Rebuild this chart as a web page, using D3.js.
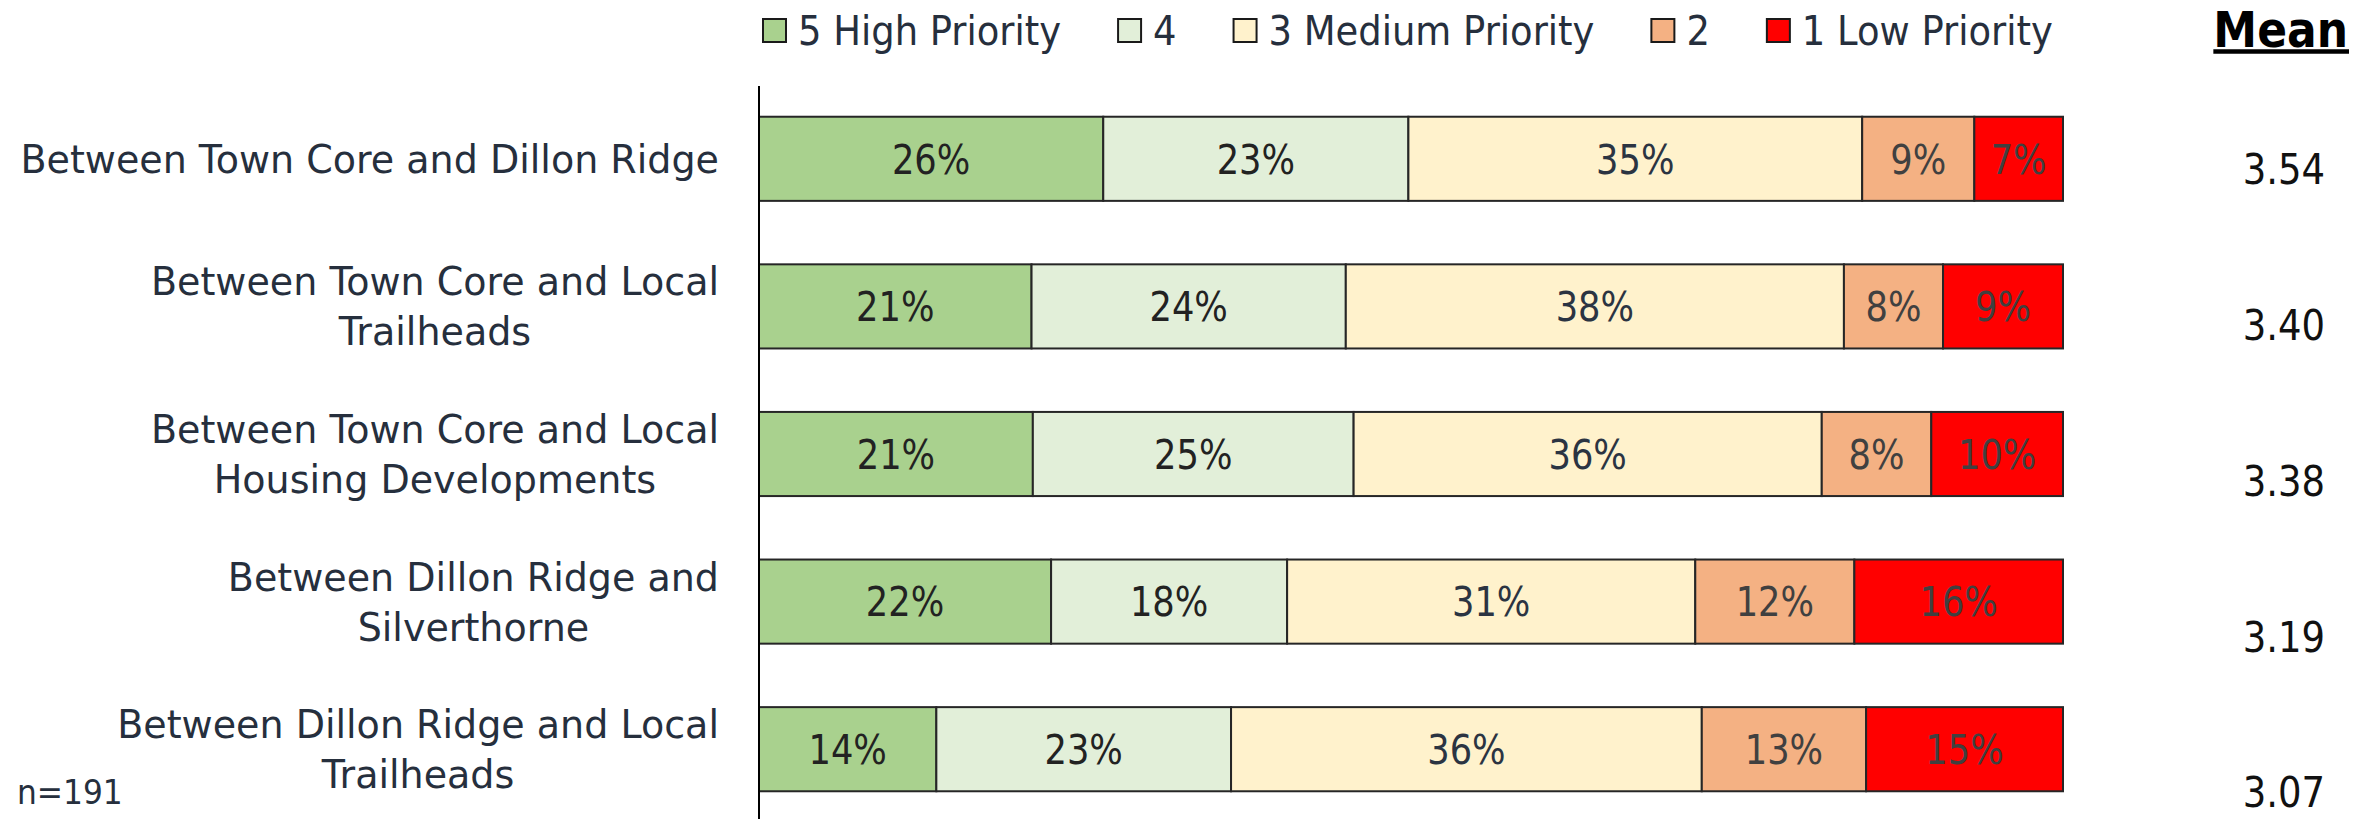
<!DOCTYPE html>
<html>
<head>
<meta charset="utf-8">
<script src="https://cdn.jsdelivr.net/npm/d3@7"></script>
<style>
  body { margin: 0; background: #fff; }
  svg { display: block; font-family: "DejaVu Sans", Verdana, sans-serif; }
</style>
</head>
<body>
<svg id="chart" width="2371" height="819"></svg>
<script>
// categories, top to bottom
var categories = [
  "Between Town Core and Dillon Ridge",
  "Between Town Core and Local Trailheads",
  "Between Town Core and Local Housing Developments",
  "Between Dillon Ridge and Silverthorne",
  "Between Dillon Ridge and Local Trailheads"
];
// how each label breaks into lines
var labelLines = [
  ["Between Town Core and Dillon Ridge"],
  ["Between Town Core and Local", "Trailheads"],
  ["Between Town Core and Local", "Housing Developments"],
  ["Between Dillon Ridge and", "Silverthorne"],
  ["Between Dillon Ridge and Local", "Trailheads"]
];

var seriesNames = ["5 High Priority", "4", "3 Medium Priority", "2", "1 Low Priority"];
var seriesColors = ["#a9d18e", "#e2efd9", "#fff2cc", "#f4b183", "#ff0000"];
var labelColors = ["#222222", "#222222", "#2b3442", "#404040", "#404040"];

// share per series (percent), one entry per category
var high5   = [26.4, 20.9, 21.0, 22.4, 13.6];
var four    = [23.4, 24.1, 24.6, 18.1, 22.6];
var medium3 = [34.8, 38.2, 35.9, 31.3, 36.1];
var two     = [8.6, 7.6, 8.4, 12.2, 12.6];
var low1    = [6.8, 9.2, 10.1, 16.0, 15.1];

var means = ["3.54", "3.40", "3.38", "3.19", "3.07"];
var sampleNote = "n=191";

var series = [high5, four, medium3, two, low1];

var rows = categories.map(function(c, i) {
  var r = { cat: c };
  seriesNames.forEach(function(s, j) { r[s] = series[j][i]; });
  return r;
});

var stack = d3.stack().keys(seriesNames)(rows);

var svg = d3.select("#chart");

var x = d3.scaleLinear().domain([0, 100]).range([759, 2063]);
var y = d3.scaleBand().domain(categories).range([85, 823]).paddingInner(0.43).paddingOuter(0.215);
var yMean = d3.scalePoint().domain(categories).range([169, 792]);

var textColor = "#262f3d";

// squeeze DejaVu to the narrower face of the original
function squeeze(sel, k) {
  sel.each(function() {
    var w = this.getComputedTextLength();
    d3.select(this).attr("textLength", w * k).attr("lengthAdjust", "spacingAndGlyphs");
  });
  return sel;
}

// bars
var layers = svg.append("g").selectAll("g")
  .data(stack)
  .enter().append("g")
  .attr("fill", function(d, i) { return seriesColors[i]; });

layers.selectAll("rect")
  .data(function(d) { return d; })
  .enter().append("rect")
  .attr("x", function(d) { return x(d[0]); })
  .attr("y", function(d) { return y(d.data.cat); })
  .attr("width", function(d) { return x(d[1]) - x(d[0]); })
  .attr("height", y.bandwidth())
  .attr("stroke", "#262626")
  .attr("stroke-width", 2);

// value labels inside bars
layers.each(function(layer, i) {
  var t = d3.select(this).selectAll("text")
    .data(layer)
    .enter().append("text")
    .attr("x", function(d) { return (x(d[0]) + x(d[1])) / 2; })
    .attr("y", function(d) { return y(d.data.cat) + y.bandwidth() / 2; })
    .attr("text-anchor", "middle")
    .attr("dy", "0.36em")
    .attr("font-size", 41)
    .attr("fill", labelColors[i])
    .text(function(d) { return Math.round(d[1] - d[0]) + "%"; });
  squeeze(t, 0.86);
});

// vertical axis line
svg.append("line")
  .attr("x1", x(0)).attr("x2", x(0))
  .attr("y1", 86).attr("y2", 819)
  .attr("stroke", "#000").attr("stroke-width", 2);

// category labels
var lineH = 50;
categories.forEach(function(c, i) {
  var lines = labelLines[i];
  var cy = y(c) + y.bandwidth() / 2;
  var t = svg.append("text")
    .attr("text-anchor", "middle")
    .attr("font-size", 39)
    .attr("fill", textColor);
  lines.forEach(function(l, k) {
    t.append("tspan")
      .attr("x", 0)
      .attr("y", cy + (k - (lines.length - 1) / 2) * lineH)
      .attr("dy", "0.36em")
      .text(l);
  });
  var spans = t.selectAll("tspan");
  squeeze(spans, 0.975);
  var w = d3.max(spans.nodes(), function(n) { return +n.getAttribute("textLength"); });
  spans.attr("x", 719 - w / 2);
});

// legend, laid out left to right
var leg = svg.append("g");
var cursor = 763;
seriesNames.forEach(function(s, i) {
  leg.append("rect")
    .attr("x", cursor).attr("y", 19)
    .attr("width", 23).attr("height", 23)
    .attr("fill", seriesColors[i])
    .attr("stroke", "#1a1a1a").attr("stroke-width", 2);
  var t = leg.append("text")
    .attr("x", cursor + 35).attr("y", 45)
    .attr("font-size", 41)
    .attr("fill", textColor)
    .text(s);
  squeeze(t, 0.9);
  cursor += 35 + +t.attr("textLength") + 57;
});

// mean column
var meanX = 2348;
var mh = svg.append("text")
  .attr("x", meanX).attr("y", 47)
  .attr("text-anchor", "end")
  .attr("font-size", 50)
  .attr("font-weight", "bold")
  .attr("fill", "#000")
  .text("Mean");
squeeze(mh, 0.88);
svg.append("line")
  .attr("x1", meanX - +mh.attr("textLength")).attr("x2", meanX + 1)
  .attr("y1", 51.5).attr("y2", 51.5)
  .attr("stroke", "#000").attr("stroke-width", 4.5);

var mv = svg.append("g").selectAll("text")
  .data(means)
  .enter().append("text")
  .attr("x", 2325)
  .attr("y", function(d, i) { return yMean(categories[i]); })
  .attr("dy", "0.36em")
  .attr("text-anchor", "end")
  .attr("font-size", 43)
  .attr("fill", "#111")
  .text(function(d) { return d; });
squeeze(mv, 0.86);

// sample size
var nt = svg.append("text")
  .attr("x", 17).attr("y", 792)
  .attr("dy", "0.36em")
  .attr("font-size", 34)
  .attr("fill", textColor)
  .text(sampleNote);
squeeze(nt, 0.92);
</script>
</body>
</html>
